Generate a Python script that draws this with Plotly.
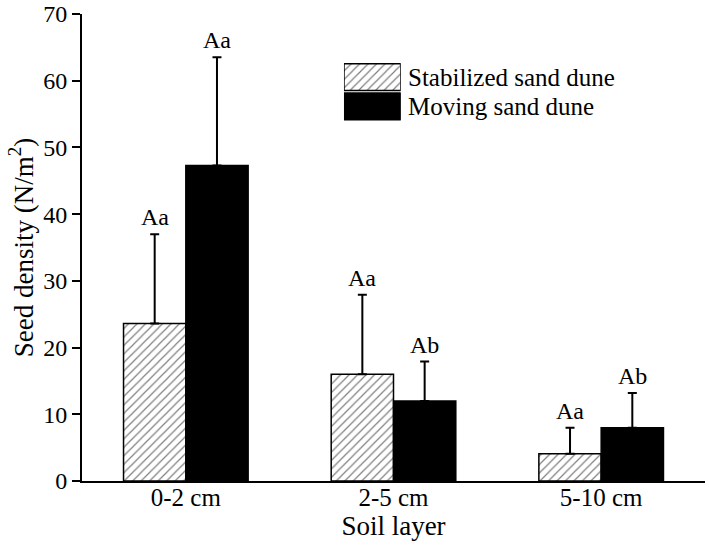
import plotly.graph_objects as go

layers = ["0-2 cm", "2-5 cm", "5-10 cm"]
stable = [23.6, 16.0, 4.1]
stable_err = [13.4, 11.9, 3.9]
moving = [47.3, 12.0, 8.0]
moving_err = [16.2, 5.9, 5.2]
stable_lbl = ["Aa", "Aa", "Aa"]
moving_lbl = ["Aa", "Ab", "Ab"]
series_names = ["Stabilized sand dune", "Moving sand dune"]

font = "Liberation Serif, Times New Roman, serif"
hatch = dict(shape="/", fgcolor="black", bgcolor="white", size=6, solidity=0.2)

fig = go.Figure()
fig.add_trace(go.Bar(
    x=layers, y=stable, name=series_names[0],
    marker=dict(color="white", line=dict(color="black", width=1.5), pattern=hatch),
    error_y=dict(type="data", symmetric=False, array=stable_err,
                 arrayminus=[0] * 3, color="black", thickness=2, width=4.5),
    showlegend=False,
))
fig.add_trace(go.Bar(
    x=layers, y=moving, name=series_names[1],
    marker=dict(color="black", line=dict(color="black", width=1.5)),
    error_y=dict(type="data", symmetric=False, array=moving_err,
                 arrayminus=[0] * 3, color="black", thickness=2, width=4.5),
    showlegend=False,
))

# significance letters above the error bars
for i in range(len(layers)):
    for off, v, e, t in [(-0.15, stable[i], stable_err[i], stable_lbl[i]),
                         (0.15, moving[i], moving_err[i], moving_lbl[i])]:
        fig.add_annotation(x=i + off, y=v + e, xref="x", yref="y", text=t,
                           showarrow=False, yanchor="bottom", yshift=2,
                           font=dict(family=font, size=24, color="black"))

# legend boxes drawn on a small overlay axis
fig.add_trace(go.Bar(
    x=[1], y=[series_names[0]], orientation="h", xaxis="x2", yaxis="y2",
    width=0.92, showlegend=False, hoverinfo="skip",
    marker=dict(color="white", line=dict(color="black", width=1.5), pattern=hatch),
))
fig.add_trace(go.Bar(
    x=[1], y=[series_names[1]], orientation="h", xaxis="x2", yaxis="y2",
    width=0.92, showlegend=False, hoverinfo="skip",
    marker=dict(color="black", line=dict(color="black", width=1.5)),
))
for nm in series_names:
    fig.add_annotation(x=1.0, y=nm, xref="x2", yref="y2", text=nm,
                       showarrow=False, xanchor="left", xshift=5,
                       font=dict(family=font, size=25, color="black"))

fig.update_layout(
    width=709, height=547,
    margin=dict(l=82, r=4, t=14, b=66),
    plot_bgcolor="white", paper_bgcolor="white",
    barmode="group", bargap=0.4, bargroupgap=0,
    font=dict(family=font, size=24, color="black"),
    xaxis=dict(showline=True, linecolor="black", linewidth=2, ticks="",
               range=[-0.5, 2.5], tickfont=dict(size=25), automargin=False,
               ticklabelstandoff=-7,
               title=dict(text="Soil layer", font=dict(size=27), standoff=2)),
    yaxis=dict(showline=True, linecolor="black", linewidth=2, ticks="outside",
               ticklen=8, tickwidth=2, tickcolor="black", range=[0, 70],
               dtick=10, showgrid=False, zeroline=False, automargin=False,
               ticklabeloverflow="allow", tickfont=dict(size=24),
               title=dict(text="Seed density (N/m<sup>2</sup>)",
                          font=dict(size=27), standoff=2)),
    xaxis2=dict(domain=[0.4205, 0.5116], range=[0, 1], visible=False,
                anchor="y2", fixedrange=True),
    yaxis2=dict(domain=[0.771, 0.896], range=[1.5, -0.5], visible=False,
                anchor="x2", fixedrange=True),
)

fig.write_html("out.html", config={"displayModeBar": False},
               post_script="document.body.style.margin='0';")
